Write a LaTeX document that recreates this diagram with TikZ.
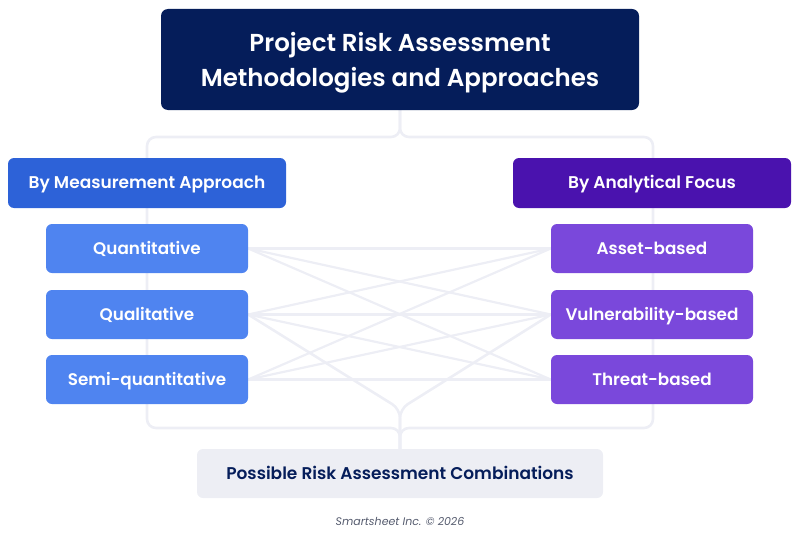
\documentclass[tikz,border=0pt]{standalone}
\usepackage{fontspec}
\setmainfont{Poppins}[BoldFont={* SemiBold}]
\usetikzlibrary{backgrounds}
\definecolor{navy}{HTML}{051D5A}
\definecolor{hdrL}{HTML}{2D62D8}
\definecolor{hdrR}{HTML}{4A12AE}
\definecolor{itemL}{HTML}{4F84F0}
\definecolor{itemR}{HTML}{7A48DB}
\definecolor{linec}{HTML}{EDEEF5}
\definecolor{boxgray}{HTML}{EDEEF4}
\definecolor{foot}{HTML}{555B6E}
\tikzset{
  titlebox/.style={fill=navy, rounded corners=7pt, minimum width=478pt, minimum height=101pt, text=white, align=center, font=\fontsize{24.5}{35}\selectfont\bfseries, inner sep=0pt, text depth=0pt},
  hdrbox/.style={rounded corners=6pt, minimum width=278pt, minimum height=50pt, text=white, font=\fontsize{17}{19}\selectfont\bfseries, inner sep=0pt, text height=11.9pt, text depth=0pt},
  itembox/.style={rounded corners=6pt, minimum width=202pt, minimum height=49pt, text=white, font=\fontsize{16.8}{19}\selectfont\bfseries, inner sep=0pt, text height=11.8pt, text depth=0pt},
  botbox/.style={fill=boxgray, rounded corners=6pt, minimum width=406pt, minimum height=49pt, text=navy, font=\fontsize{17}{19}\selectfont\bfseries, inner sep=0pt, text height=11.9pt, text depth=0pt},
  conn/.style={draw=linec, line width=2.6pt, rounded corners=9pt},
  cross/.style={draw=linec, line width=2.2pt},
}
\begin{document}
\begin{tikzpicture}[x=1pt,y=-1pt]
\useasboundingbox (0,0) rectangle (800,535);
\node[titlebox] (title) at (400,59.5) {Project Risk Assessment\\Methodologies and Approaches};
\node[hdrbox, fill=hdrL] (hL) at (147,183) {By Measurement Approach};
\node[hdrbox, fill=hdrR] (hR) at (652,183) {By Analytical Focus};
\node[itembox, fill=itemL] (l1) at (147,248.5) {Quantitative};
\node[itembox, fill=itemL] (l2) at (147,314.5) {Qualitative};
\node[itembox, fill=itemL] (l3) at (147,379.5) {Semi-quantitative};
\node[itembox, fill=itemR] (r1) at (652,248.5) {Asset-based};
\node[itembox, fill=itemR] (r2) at (652,314.5) {Vulnerability-based};
\node[itembox, fill=itemR] (r3) at (652,379.5) {Threat-based};
\node[botbox] (bot) at (400,473.5) {Possible Risk Assessment Combinations};
\node[text=foot, font=\fontsize{11}{12}\selectfont\itshape] (foot) at (400,521) {Smartsheet Inc. © 2026};
\coordinate (split) at (400,137);
\coordinate (tl) at (147,137);
\coordinate (tr) at (653,137);
\coordinate (bl) at (147,428);
\coordinate (br) at (653,428);
\coordinate (merge) at (400,428);
\coordinate (vee) at (400,409);
\begin{scope}[on background layer]
\path[conn] (title.south) -- (split) -- (tl) -- (bl) -- (merge) -- (bot.north);
\path[conn] (title.south) -- (split) -- (tr) -- (br) -- (merge) -- (bot.north);
\path[conn] (l2.east) -- (vee) -- (bot.north);
\path[conn] (r2.west) -- (vee) -- (bot.north);
\foreach \a in {l1,l2,l3}{
  \foreach \b in {r1,r2,r3}{
    \path[cross] (\a.east) -- (\b.west);
  }
}
\end{scope}
\end{tikzpicture}
\end{document}
